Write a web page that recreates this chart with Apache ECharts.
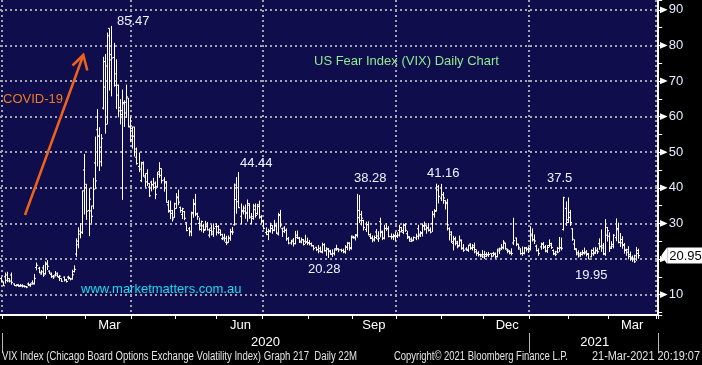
<!DOCTYPE html>
<html><head><meta charset="utf-8">
<script src="https://cdn.jsdelivr.net/npm/echarts@6.0.0/dist/echarts.min.js"></script>
<style>html,body{margin:0;padding:0;background:#000;}#c{width:702px;height:365px;}</style>
</head><body><div id="c"></div>
<script>
// ---- trading calendar (categories) ----
const holidays = ['2020-01-01','2020-01-20','2020-02-17','2020-04-10','2020-05-25','2020-07-03','2020-09-07','2020-11-26','2020-12-25','2021-01-01','2021-01-18','2021-02-15'];
const firstDay = '2019-12-31';
const lastDay = '2021-04-01';

// ---- daily VIX bars: Dec 31 2019 .. Mar 19 2021 (one row per month) ----
const openP = [14.5,
 13.5,15.0,15.5,14.5,15.5,13.0,12.5,12.8,12.5,12.6,12.4,12.2,13.0,12.5,13.3,13.2,17.6,17.4,15.8,17.5,15.9,
 18.5,16.6,15.6,15.0,15.5,16.0,14.8,14.5,14.9,14.1,14.9,14.5,14.4,16.5,21.4,24.0,27.0,27.4,45.0,
 41.0,33.6,33.5,34.9,47.0,56.3,54.6,51.4,62.4,68.3,74.2,84.8,77.4,76.6,68.8,68.8,62.5,60.6,63.6,64.0,65.2,57.3,
 56.7,54.5,48.6,46.0,42.0,47.1,43.0,44.0,40.2,41.6,40.9,41.3,40.3,44.5,43.5,42.2,41.7,35.2,33.6,32.8,31.7,
 35.5,37.4,34.5,32.5,33.3,30.2,28.5,27.8,32.7,35.6,32.7,30.0,28.3,29.3,28.3,29.1,26.7,28.7,27.0,29.1,
 29.1,27.4,25.7,26.0,24.7,24.7,25.9,27.7,29.6,36.7,40.0,32.0,33.3,34.3,32.9,35.6,30.0,31.9,34.9,32.8,35.2,31.8,
 30.7,27.4,26.9,27.7,28.6,28.1,29.5,27.0,32.5,28.5,28.7,28.1,25.7,24.5,25.3,24.3,26.7,25.9,25.0,25.4,25.0,24.8,
 24.6,24.3,23.7,23.3,22.6,23.0,21.9,24.0,22.4,22.8,22.3,21.4,21.6,22.9,22.9,22.6,22.4,22.0,23.4,24.4,23.2,
 26.0,25.9,26.8,31.6,32.5,30.8,28.3,29.6,26.4,25.9,25.3,27.6,25.6,30.5,27.4,25.9,28.6,28.5,26.3,26.3,26.6,
 26.5,28.0,28.8,27.5,29.6,27.1,26.0,25.6,25.3,25.9,28.5,26.5,27.2,29.4,28.4,28.8,28.1,30.0,32.6,33.6,39.4,37.1,
 38.1,36.4,35.9,28.5,26.8,24.4,25.4,24.4,23.8,25.1,22.9,22.8,22.4,24.2,23.0,23.2,22.0,21.6,21.2,21.2,
 21.2,21.3,21.2,21.5,21.6,21.6,20.6,22.8,23.0,23.1,24.4,22.5,22.1,21.6,24.5,25.9,24.1,22.8,21.5,21.6,23.1,22.8,
 23.0,26.5,25.5,23.6,22.4,23.4,24.3,23.4,22.3,23.8,23.9,22.4,21.4,22.0,23.0,23.1,28.3,34.2,31.0,
 31.7,28.5,24.2,22.6,21.4,21.4,21.7,21.8,21.7,21.5,20.6,22.4,21.9,22.3,24.3,23.6,23.7,21.5,26.7,
 26.4,23.0,23.6,26.0,28.2,24.7,24.5,23.8,22.4,22.6,21.2,20.5,20.2,20.9,22.4];
const highP = [15.0,
 13.7,16.2,16.4,14.5,16.2,13.1,12.9,12.9,13.0,12.9,12.6,12.4,13.4,13.2,14.0,15.8,19.0,17.8,16.9,18.3,19.3,
 19.7,16.8,16.2,15.5,16.6,16.2,15.5,14.6,15.1,14.4,15.3,14.7,17.0,18.2,25.8,28.9,30.1,39.2,49.5,
 41.0,39.9,35.0,42.8,54.4,62.1,57.0,55.1,76.8,77.6,83.6,84.8,85.47,80.7,76.1,69.0,64.9,67.6,64.6,69.0,65.2,60.0,
 57.2,57.2,51.3,49.9,47.3,47.4,44.1,45.2,41.3,42.0,42.8,41.8,44.5,47.2,45.5,43.0,41.9,36.5,36.4,33.8,35.8,
 38.5,39.5,34.7,34.4,33.5,30.3,29.0,33.3,36.9,38.3,33.0,31.6,30.8,29.9,30.7,30.4,28.6,29.6,30.0,30.0,
 29.5,28.3,27.1,27.1,26.5,26.6,28.5,29.0,41.2,43.0,44.44,35.6,35.0,35.3,36.7,35.6,32.9,35.5,35.6,35.5,36.4,32.3,
 31.0,28.9,28.5,30.2,29.5,31.0,30.2,33.0,33.8,28.8,29.2,28.6,26.2,25.4,25.9,27.9,28.0,26.2,26.0,25.6,26.8,26.0,
 25.3,24.6,23.9,23.4,23.9,23.5,24.6,24.4,23.3,23.1,22.6,22.7,23.0,24.0,23.0,22.9,22.9,23.9,24.8,24.7,26.6,
 26.5,27.0,38.28,38.0,33.5,31.0,30.5,30.6,27.2,26.6,26.6,28.4,27.8,31.6,28.0,29.6,30.1,29.2,27.2,27.1,27.6,
 27.5,29.6,29.0,30.0,30.1,27.9,26.4,26.1,26.3,27.1,29.6,27.8,30.0,30.5,29.5,30.1,28.9,33.5,34.0,41.16,40.8,41.1,
 38.8,36.5,36.9,28.9,27.8,26.5,26.3,25.1,26.6,25.5,24.2,23.3,24.0,24.4,24.2,24.6,22.7,22.2,21.5,22.5,
 22.3,21.9,22.0,21.6,22.0,21.8,22.9,23.2,24.2,25.3,24.6,22.9,22.5,23.0,31.6,26.0,24.3,23.0,23.5,23.4,23.4,23.4,
 29.2,28.6,26.9,24.0,23.0,24.6,24.8,23.9,23.9,25.5,24.6,22.7,22.3,23.4,26.2,26.0,37.5,36.2,37.3,
 33.8,28.6,25.5,23.0,22.4,22.0,22.5,23.2,22.5,21.7,22.7,23.2,23.4,23.2,25.8,28.3,24.5,31.2,29.0,
 27.5,25.0,27.0,31.4,30.2,27.3,26.4,24.5,22.9,23.6,22.1,21.0,21.2,23.4,22.9];
const lowP = [13.4,
 12.4,13.1,13.5,13.4,12.8,12.4,12.3,12.2,12.2,12.0,12.0,11.8,12.4,12.2,12.8,12.8,16.8,16.0,15.6,15.0,15.6,
 16.9,15.8,14.7,14.4,15.1,14.9,13.8,13.6,13.7,13.4,14.2,14.0,14.2,16.2,20.6,23.0,25.8,27.0,32.5,
 31.0,26.4,30.0,34.0,39.6,46.0,44.7,46.0,62.0,55.2,57.8,67.3,65.7,68.4,62.1,59.8,57.8,36.6,57.1,59.6,57.0,52.8,
 51.0,48.8,46.5,44.4,41.6,43.1,40.0,40.5,37.4,39.0,39.5,36.8,40.0,42.8,41.2,38.9,35.9,33.0,31.2,30.5,31.6,
 34.1,35.1,33.0,31.2,30.9,27.8,26.4,26.4,31.6,32.0,31.0,28.0,27.7,27.3,28.0,28.0,26.0,26.6,26.2,26.6,
 27.0,26.5,25.3,24.9,23.9,24.5,25.1,26.8,29.4,32.7,34.3,29.8,32.5,31.3,30.5,31.3,29.9,31.0,31.6,32.4,31.3,30.0,
 28.3,26.7,25.3,27.4,27.1,27.8,27.0,26.6,28.8,26.2,27.3,25.1,24.1,24.0,23.5,24.1,25.6,24.5,24.4,23.8,24.2,23.9,
 23.8,23.5,22.4,22.2,21.6,21.8,21.6,22.1,20.9,20.28,21.2,20.6,21.0,22.3,21.9,21.9,21.6,21.5,22.5,22.3,22.6,
 25.7,25.2,26.0,30.1,29.4,28.0,27.6,26.6,25.6,24.7,24.9,25.6,24.8,26.1,25.3,25.5,27.9,26.1,25.5,25.3,25.0,
 25.9,26.3,27.5,27.0,27.6,25.6,24.9,24.8,25.0,25.3,25.5,26.2,26.3,28.0,27.1,27.7,27.2,27.6,31.6,33.3,35.6,36.3,
 35.5,33.9,28.0,25.2,24.5,22.4,23.8,23.0,23.5,22.6,22.0,22.3,22.0,22.6,22.4,21.6,20.9,20.7,20.5,20.3,
 20.0,20.5,20.6,20.4,20.7,20.2,20.5,21.4,22.5,22.7,22.6,21.6,21.3,21.0,23.9,23.6,22.6,21.2,20.9,21.3,22.1,21.7,
 22.4,24.9,24.2,22.1,20.9,22.6,22.8,21.9,21.7,23.3,22.8,21.1,20.8,21.6,22.0,22.4,28.0,29.3,30.1,
 29.3,25.1,22.5,21.0,20.4,20.6,21.0,21.2,20.7,19.95,20.5,20.9,21.4,21.4,22.6,22.0,21.1,20.9,24.9,
 22.0,22.8,23.0,25.0,24.4,23.4,22.9,21.5,20.9,19.9,19.5,19.2,18.9,19.5,20.1];
const closeP = [13.78,
 12.47,14.02,13.85,13.79,13.45,12.54,12.56,12.32,12.39,12.42,12.32,12.10,12.85,12.91,12.98,14.56,18.23,16.28,16.39,15.49,18.84,
 17.97,16.05,15.15,14.96,15.47,15.04,15.18,13.74,14.15,13.68,14.83,14.38,15.56,17.08,25.03,27.85,27.56,39.16,40.11,
 33.42,36.82,31.99,39.62,41.94,54.46,47.30,53.90,75.47,57.83,82.69,75.91,76.45,72.00,66.04,61.59,61.67,63.95,61.00,65.54,57.08,53.54,
 57.06,50.91,46.80,45.24,46.70,43.35,41.67,41.17,37.76,40.84,40.11,38.15,43.83,45.41,41.98,41.38,35.93,33.29,33.57,31.23,34.15,
 37.19,35.97,33.61,34.12,31.44,27.98,27.57,33.04,35.28,32.61,31.89,29.30,30.53,27.99,29.53,28.16,28.01,27.62,28.59,27.51,
 28.23,26.84,25.66,25.81,24.52,25.81,27.57,27.57,40.79,36.09,34.40,33.67,33.47,32.94,35.12,31.77,31.37,33.84,32.22,34.73,31.78,30.43,
 28.62,27.68,27.94,29.43,28.08,29.26,27.29,32.19,29.52,27.76,28.00,25.68,24.46,24.84,24.32,26.08,25.84,24.74,25.44,24.10,24.76,24.46,
 24.28,23.76,22.99,22.65,22.21,22.13,24.03,22.28,22.82,22.05,21.35,21.51,22.54,22.72,22.54,22.37,22.03,23.27,24.47,22.96,26.41,
 26.12,26.57,33.60,30.75,31.46,28.81,29.71,26.87,25.85,25.59,26.04,26.46,25.83,27.78,25.79,28.58,28.51,26.38,26.19,26.27,26.37,
 26.70,27.63,27.96,29.48,28.06,26.36,25.00,25.07,26.07,26.40,26.97,27.41,29.18,29.35,28.65,28.11,27.55,32.46,33.35,40.28,37.59,38.02,
 37.13,35.55,29.57,27.58,24.86,25.75,24.80,23.45,25.35,23.10,22.45,22.71,23.84,23.11,23.70,22.66,21.64,21.25,20.84,20.57,
 20.77,21.17,21.28,20.79,21.30,20.68,22.27,22.52,23.31,24.72,22.89,22.50,21.93,21.57,25.16,24.23,23.31,21.53,21.70,23.08,22.77,22.75,
 26.97,25.34,25.07,22.37,21.56,24.08,23.33,22.21,23.25,24.34,23.24,21.58,21.32,21.91,23.19,23.02,37.21,30.21,33.09,
 30.24,25.56,22.91,21.77,20.87,21.24,21.63,21.99,21.25,19.97,21.46,21.50,22.49,22.05,23.45,23.11,21.34,28.89,27.95,
 23.35,24.10,26.67,28.57,24.66,25.47,24.03,22.56,21.91,20.69,20.03,19.79,19.23,21.58,20.95];

// ---- tick labels ----
const monthNames = ['Jan','Feb','Mar','Apr','May','Jun','Jul','Aug','Sep','Oct','Nov','Dec'];
const labelledMonths = [2, 5, 8, 11];
const yLabelValues = [10, 20, 30, 40, 50, 60, 70, 80, 90];

// ---- annotations (text) ----
const peakLabels = [
  {text: '85.47', x: 117, y: 21}, {text: '44.44', x: 240, y: 163}, {text: '38.28', x: 354, y: 178},
  {text: '41.16', x: 427, y: 173}, {text: '20.28', x: 308, y: 269}, {text: '37.5', x: 547, y: 178},
  {text: '19.95', x: 575, y: 275}
];
const footerTexts = [
  {text: 'VIX Index (Chicago Board Options Exchange Volatility Index) Graph 217  Daily 22M', x: 2, w: 355},
  {text: 'Copyright\u00a9 2021 Bloomberg Finance L.P.', x: 394, w: 174},
  {text: '21-Mar-2021 20:19:07', x: 592, w: 108}
];

// ---------------------------------------------------------------
function buildTradingDays(a, b) {
  const out = [];
  const d = new Date(a + 'T00:00:00Z'), end = new Date(b + 'T00:00:00Z');
  while (d <= end) {
    const wd = d.getUTCDay(), s = d.toISOString().slice(0, 10);
    if (wd !== 0 && wd !== 6 && holidays.indexOf(s) < 0) out.push(s);
    d.setUTCDate(d.getUTCDate() + 1);
  }
  return out;
}
const dates = buildTradingDays(firstDay, lastDay);
const N = dates.length;
const monthStarts = [], quarterStart = new Set(), yearStarts = [];
for (let i = 1; i < N; i++) {
  if (dates[i].slice(5, 7) !== dates[i - 1].slice(5, 7)) {
    monthStarts.push(i);
    const m = +dates[i].slice(5, 7) - 1;
    if (m % 3 === 0) quarterStart.add(i);
    if (dates[i].slice(0, 4) !== dates[i - 1].slice(0, 4)) yearStarts.push(i);
  }
}
const monthStartSet = new Set(monthStarts);
const yearStartSet = new Set(yearStarts);
const monthLabelAt = {};
for (let k = 0; k < monthStarts.length; k++) {
  const f = monthStarts[k], n = k + 1 < monthStarts.length ? monthStarts[k + 1] : N;
  const m = +dates[f].slice(5, 7) - 1;
  if (labelledMonths.indexOf(m) >= 0) monthLabelAt[Math.round((f + n) / 2 - 0.5)] = monthNames[m];
}
const yearLabelAt = {};
for (let k = 0; k < yearStarts.length; k++) {
  const f = yearStarts[k], n = k + 1 < yearStarts.length ? yearStarts[k + 1] : N;
  yearLabelAt[Math.round((f + n) / 2 - 0.5)] = dates[f].slice(0, 4);
}

const ohlc = closeP.map((c, i) => [i, openP[i], highP[i], lowP[i], c]);
const lastIdx = closeP.length - 1;
const lastClose = closeP[lastIdx];

const svgUrl = s => 'data:image/svg+xml;charset=utf-8,' + encodeURIComponent(s);
const rightTri = svgUrl('<svg xmlns="http://www.w3.org/2000/svg" width="16" height="14" viewBox="0 0 16 14"><path d="M0 0L16 7L0 14Z" fill="#ffffff"/></svg>');
const leftTri = svgUrl('<svg xmlns="http://www.w3.org/2000/svg" width="12" height="34" viewBox="0 0 12 34"><path d="M12 0L0 17L12 34Z" fill="#ffffff"/></svg>');

const gridStyle = {color: '#a4a4ae', width: 2, type: [2, 3]};
const FONT = '"Liberation Sans", Arial, sans-serif';

const mctx = document.createElement('canvas').getContext('2d');
function fitScale(text, font, target) { mctx.font = font; return target / mctx.measureText(text).width; }

const graphics = [];
peakLabels.forEach(p => graphics.push({type: 'text', x: p.x, y: p.y, z: 50,
  style: {text: p.text, fill: '#eef3ff', font: '13px ' + FONT, textVerticalAlign: 'middle', verticalAlign: 'middle'}}));
graphics.push({type: 'text', x: 3, y: 99, z: 50, style: {text: 'COVID-19', fill: '#f07a22', font: '13px ' + FONT, textVerticalAlign: 'middle', verticalAlign: 'middle'}});
graphics.push({type: 'text', x: 314, y: 61, z: 50, style: {text: 'US Fear Index (VIX) Daily Chart', fill: '#8fea8f', font: '13px ' + FONT, textVerticalAlign: 'middle', verticalAlign: 'middle'}});
graphics.push({type: 'text', x: 81, y: 289, z: 50, style: {text: 'www.marketmatters.com.au', fill: '#14dcf2', font: '13px ' + FONT, textVerticalAlign: 'middle', verticalAlign: 'middle'}});
graphics.push({type: 'line', z: 50, shape: {x1: 25, y1: 215, x2: 83, y2: 56}, style: {stroke: '#f0621c', lineWidth: 2.5}});
graphics.push({type: 'polyline', z: 50, shape: {points: [[72.5, 65.5], [83.3, 55], [87.3, 70.5]]}, style: {stroke: '#f0621c', lineWidth: 2.5, fill: null}});
footerTexts.forEach(f => {
  const font = '12px ' + FONT;
  graphics.push({type: 'text', x: f.x, y: 357, scaleX: fitScale(f.text, font, f.w), z: 50,
    style: {text: f.text, fill: '#e4e4e4', font: font, textVerticalAlign: 'middle', verticalAlign: 'middle'}});
});

const chart = echarts.init(document.getElementById('c'), null, {renderer: 'canvas'});
chart.setOption({
  animation: false,
  backgroundColor: '#000',
  grid: {left: 0, top: 0, width: 658.2, height: 315, show: true, backgroundColor: '#0f0d4b', borderWidth: 0, containLabel: false, outerBoundsMode: 'none'},
  xAxis: [{
    type: 'category', data: dates, boundaryGap: true, position: 'bottom',
    axisLine: {show: true, onZero: false, lineStyle: {color: '#ffffff', width: 2}},
    axisTick: {show: true, interval: i => monthStartSet.has(i), length: 4, lineStyle: {color: '#ffffff', width: 1}},
    axisLabel: {show: true, interval: i => monthLabelAt[i] !== undefined, formatter: (v, i) => monthLabelAt[i] || '',
      color: '#ffffff', fontSize: 13, fontFamily: FONT, margin: 4},
    splitLine: {show: true, interval: i => quarterStart.has(i), lineStyle: gridStyle}
  }, {
    type: 'category', data: dates, boundaryGap: true, position: 'bottom', offset: 18,
    axisLine: {show: false},
    axisTick: {show: true, interval: i => yearStartSet.has(i), length: 20, lineStyle: {color: '#b8b8b8', width: 1}},
    axisLabel: {show: true, interval: i => yearLabelAt[i] !== undefined, formatter: (v, i) => yearLabelAt[i] || '',
      color: '#ffffff', fontSize: 13, fontFamily: FONT, margin: 3},
    splitLine: {show: false}
  }],
  yAxis: [{
    type: 'value', position: 'right', min: 4.27, max: 92.75, splitNumber: 18,
    axisLine: {show: true, lineStyle: {color: '#ffffff', width: 2}},
    axisTick: {show: true, length: 4, lineStyle: {color: '#ffffff', width: 1}},
    axisLabel: {show: true, margin: 1.5,
      formatter: v => {
        const r = Math.round(v);
        return (Math.abs(v - r) < 1e-6 && yLabelValues.indexOf(r) >= 0) ? '{t| }{n|' + r + '}' : '';
      },
      rich: {
        t: {width: 8, height: 7, backgroundColor: {image: rightTri}},
        n: {color: '#e6edff', fontSize: 13, fontFamily: FONT, padding: [0, 0, 0, 1]}
      }},
    splitLine: {show: false}
  }, {
    type: 'value', position: 'right', min: 4.27, max: 92.75, splitNumber: 9,
    axisLine: {show: false}, axisTick: {show: false}, axisLabel: {show: false},
    splitLine: {show: true, showMinLine: false, showMaxLine: false, lineStyle: gridStyle}
  }],
  graphic: graphics,
  series: [{
    type: 'custom', name: 'VIX', xAxisIndex: 0, yAxisIndex: 0, clip: true, z: 3,
    encode: {x: 0, y: [1, 2, 3, 4]},
    data: ohlc,
    renderItem: function (params, api) {
      const i = api.value(0);
      const pO = api.coord([i, api.value(1)]);
      const pH = api.coord([i, api.value(2)]);
      const pL = api.coord([i, api.value(3)]);
      const pC = api.coord([i, api.value(4)]);
      const x = Math.round(pH[0]) + 0.5;
      const st = {stroke: '#ffffff', lineWidth: 1};
      return {type: 'group', children: [
        {type: 'line', shape: {x1: x, y1: pH[1], x2: x, y2: pL[1]}, style: st},
        {type: 'line', shape: {x1: x - 1.5, y1: pO[1], x2: x, y2: pO[1]}, style: st},
        {type: 'line', shape: {x1: x, y1: pC[1], x2: x + 1.5, y2: pC[1]}, style: st}
      ]};
    }
  }, {
    type: 'line', name: 'last', xAxisIndex: 0, yAxisIndex: 0, symbol: 'none', silent: true, z: 20,
    lineStyle: {width: 0, color: 'rgba(0,0,0,0)'},
    data: [[lastIdx, lastClose]],
    markLine: {
      symbol: ['none', 'none'], silent: true, animation: false, z: 20,
      lineStyle: {color: 'rgba(0,0,0,0)', width: 0, opacity: 1},
      label: {show: true, position: 'end', distance: 3, opacity: 1,
        formatter: () => '{a| }{b|' + lastClose.toFixed(2) + '}',
        rich: {
          a: {width: 6, height: 17, backgroundColor: {image: leftTri}},
          b: {backgroundColor: '#ffffff', color: '#000000', fontSize: 13, fontFamily: FONT, padding: [2, 4, 1, 2], lineHeight: 14}
        }},
      data: [{yAxis: lastClose}]
    }
  }]
});
</script></body></html>
